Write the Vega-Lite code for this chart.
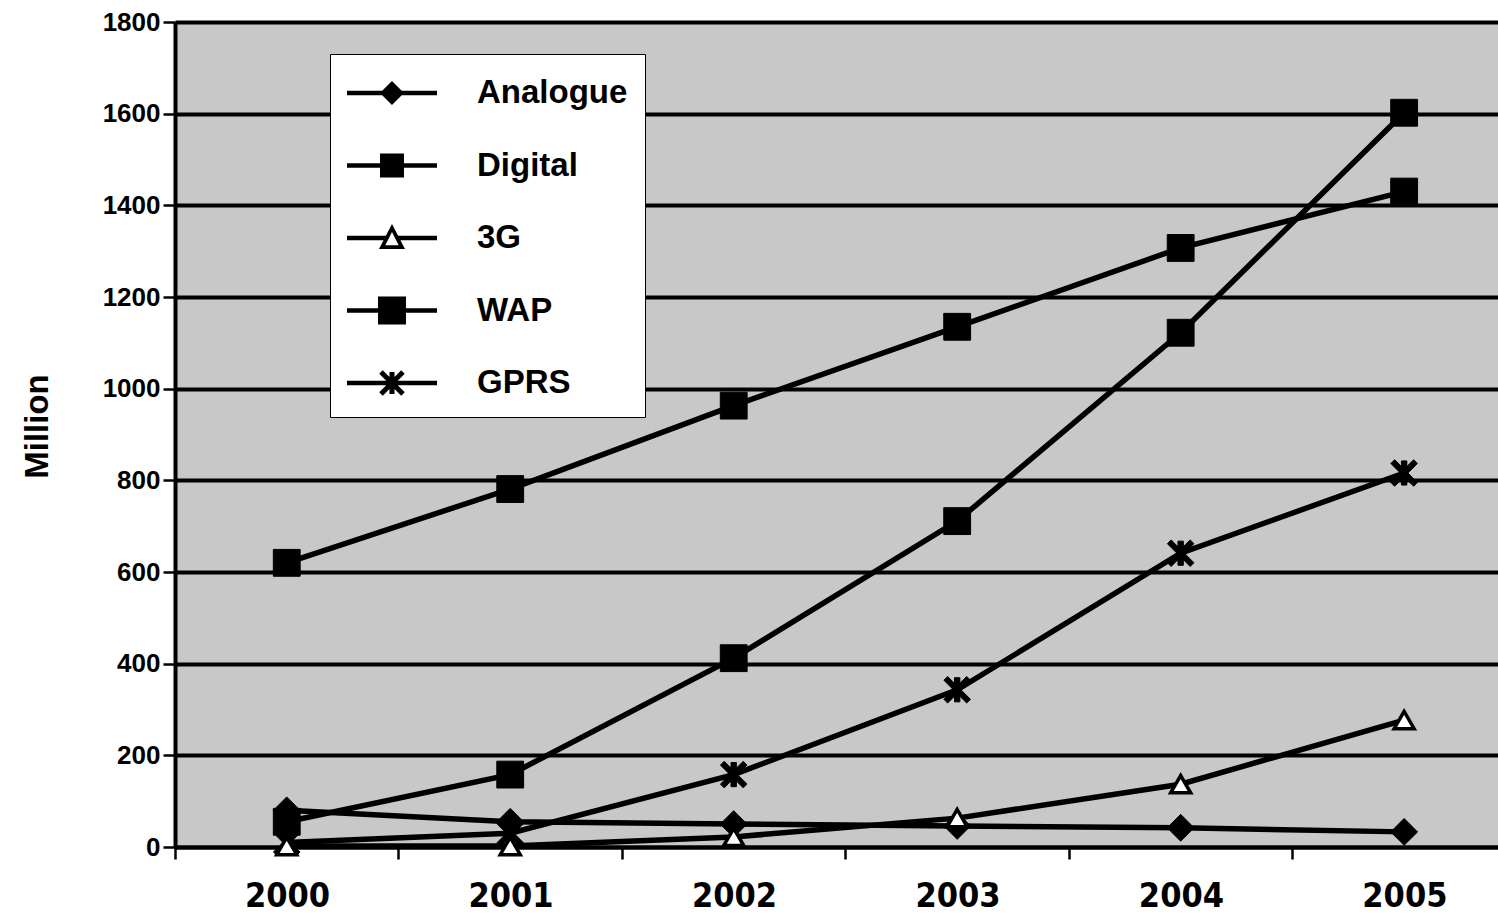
{
  "$schema": "https://vega.github.io/schema/vega-lite/v6.json",
  "width": 1323,
  "height": 825,
  "autosize": {"type": "none"},
  "padding": {"left": 175, "top": 22, "right": 0, "bottom": 73},
  "background": "white",
  "config": {
    "view": {"fill": "#c8c8c8", "stroke": null},
    "axis": {"domainColor": "black", "tickColor": "black", "gridColor": "black", "labelColor": "black", "titleColor": "black"}
  },
  "data": {
    "values": [
      {"year": 2000, "series": "Analogue", "value": 80},
      {"year": 2001, "series": "Analogue", "value": 55},
      {"year": 2002, "series": "Analogue", "value": 50},
      {"year": 2003, "series": "Analogue", "value": 46},
      {"year": 2004, "series": "Analogue", "value": 42},
      {"year": 2005, "series": "Analogue", "value": 33},
      {"year": 2000, "series": "Digital", "value": 620},
      {"year": 2001, "series": "Digital", "value": 781},
      {"year": 2002, "series": "Digital", "value": 963},
      {"year": 2003, "series": "Digital", "value": 1135},
      {"year": 2004, "series": "Digital", "value": 1307},
      {"year": 2005, "series": "Digital", "value": 1430},
      {"year": 2000, "series": "3G", "value": 2},
      {"year": 2001, "series": "3G", "value": 2},
      {"year": 2002, "series": "3G", "value": 22},
      {"year": 2003, "series": "3G", "value": 63},
      {"year": 2004, "series": "3G", "value": 137},
      {"year": 2005, "series": "3G", "value": 277},
      {"year": 2000, "series": "WAP", "value": 55},
      {"year": 2001, "series": "WAP", "value": 158},
      {"year": 2002, "series": "WAP", "value": 412},
      {"year": 2003, "series": "WAP", "value": 711},
      {"year": 2004, "series": "WAP", "value": 1122},
      {"year": 2005, "series": "WAP", "value": 1602},
      {"year": 2000, "series": "GPRS", "value": 10},
      {"year": 2001, "series": "GPRS", "value": 30},
      {"year": 2002, "series": "GPRS", "value": 158},
      {"year": 2003, "series": "GPRS", "value": 343},
      {"year": 2004, "series": "GPRS", "value": 641},
      {"year": 2005, "series": "GPRS", "value": 816}
    ]
  },
  "encoding": {
    "x": {
      "field": "year",
      "type": "quantitative",
      "scale": {"domain": [1999.5, 2005.42], "nice": false, "zero": false},
      "axis": {
        "values": [1999.5, 2000.5, 2001.5, 2002.5, 2003.5, 2004.5],
        "labelExpr": "format(datum.value + 0.5, 'd')",
        "labelOffset": 112,
        "labelFlush": false,
        "labelOverlap": false,
        "labelBound": false,
        "grid": false,
        "tickSize": 12,
        "tickWidth": 2.5,
        "domainWidth": 4,
        "labelFont": "DejaVu Sans Condensed",
        "labelFontSize": 34,
        "labelFontWeight": "bold",
        "labelPadding": 20,
        "title": null
      }
    },
    "y": {
      "field": "value",
      "type": "quantitative",
      "scale": {"domain": [0, 1800], "nice": false},
      "axis": {
        "values": [0, 200, 400, 600, 800, 1000, 1200, 1400, 1600, 1800],
        "format": "d",
        "grid": true,
        "gridWidth": 4,
        "tickSize": 12,
        "tickWidth": 2.5,
        "domainWidth": 4,
        "labelFont": "Liberation Sans",
        "labelFontSize": 26,
        "labelFontWeight": "bold",
        "labelPadding": 3,
        "title": "Million",
        "titleFont": "Liberation Sans",
        "titleFontSize": 33,
        "titleFontWeight": "bold",
        "titlePadding": 48,
        "titleY": 404
      }
    }
  },
  "resolve": {"scale": {"shape": "independent"}, "legend": {"shape": "independent"}},
  "layer": [
    {
      "mark": {"type": "line", "color": "black", "strokeWidth": 5.5},
      "encoding": {"detail": {"field": "series"}}
    },
    {
      "transform": [{"filter": "datum.series !== '3G'"}],
      "mark": {"type": "point", "filled": true, "color": "black", "stroke": "black", "strokeWidth": 1, "size": 720, "opacity": 1},
      "encoding": {
        "shape": {
          "field": "series",
          "type": "nominal",
          "scale": {
            "domain": ["Analogue", "Digital", "3G", "WAP", "GPRS"],
            "range": ["diamond", "square", "triangle-up", "square", "M-0.2,-0.9H0.2V0.9H-0.2Z M-0.71,-0.99L0.99,0.71L0.71,0.99L-0.99,-0.71Z M0.71,-0.99L0.99,-0.71L-0.71,0.99L-0.99,0.71Z"]
          },
          "legend": null
        }
      }
    },
    {
      "transform": [{"filter": "datum.series === '3G'"}],
      "mark": {"type": "point", "shape": "triangle-up", "filled": true, "fill": "white", "stroke": "black", "strokeWidth": 3.5, "size": 400, "opacity": 1}
    },
    {
      "transform": [{"filter": "false"}],
      "mark": {"type": "point", "filled": true, "color": "black", "size": 1936, "opacity": 1},
      "encoding": {
        "shape": {
          "field": "series",
          "type": "nominal",
          "scale": {
            "domain": ["Analogue", "Digital", "3G", "WAP", "GPRS"],
            "range": [
              "M-1,-0.102H3.091V0.102H-1Z M1.045,-0.545L1.59,0L1.045,0.545L0.5,0Z",
              "M-1,-0.102H3.091V0.102H-1Z M0.5,-0.545H1.59V0.545H0.5Z",
              "M-1,-0.102H0.8V0.102H-1Z M1.29,-0.102H3.091V0.102H1.29Z M1.045,-0.636L1.636,0.5L0.454,0.5Z M1.045,-0.27L0.74,0.33L1.35,0.33Z",
              "M-1,-0.102H3.091V0.102H-1Z M0.409,-0.636H1.681V0.636H0.409Z",
              "M-1,-0.102H3.091V0.102H-1Z M0.931,-0.5H1.159V0.5H0.931Z M0.625,-0.58L1.625,0.42L1.465,0.58L0.465,-0.42Z M1.465,-0.58L1.625,-0.42L0.625,0.58L0.465,0.42Z"
            ]
          },
          "legend": {
            "title": null,
            "orient": "none",
            "legendX": 155,
            "legendY": 32,
            "direction": "vertical",
            "fillColor": "white",
            "strokeColor": "black",
            "padding": 17,
            "symbolSize": 1936,
            "symbolStrokeWidth": 0,
            "symbolFillColor": "black",
            "labelOffset": 86,
            "rowPadding": 33.5,
            "labelFont": "Liberation Sans",
            "labelFontSize": 33,
            "labelFontWeight": "bold",
            "labelColor": "black",
            "labelLimit": 400,
            "encode": {
              "legend": {"update": {"strokeWidth": {"value": 2.5}}}
            }
          }
        }
      }
    }
  ]
}
